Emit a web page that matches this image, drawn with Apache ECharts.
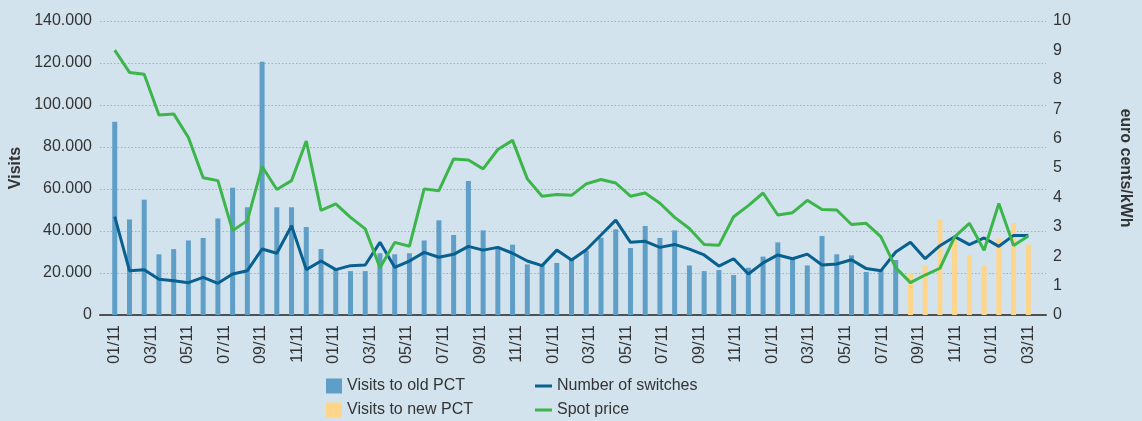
<!DOCTYPE html>
<html>
<head>
<meta charset="utf-8">
<script src="https://cdn.jsdelivr.net/npm/echarts@6/dist/echarts.min.js"></script>
<style>
  html, body { margin: 0; padding: 0; background: #d3e3ee; }
  #chart { width: 1142px; height: 421px; }
</style>
</head>
<body>
<div id="chart"></div>
<script>
// tick labels along the x axis (as printed)
const tickLabels = [
  '01/11', '03/11', '05/11', '07/11', '09/11', '11/11',
  '01/11', '03/11', '05/11', '07/11', '09/11', '11/11',
  '01/11', '03/11', '05/11', '07/11', '09/11', '11/11',
  '01/11', '03/11', '05/11', '07/11', '09/11', '11/11',
  '01/11', '03/11'
]

// visits to old PCT (bars, blue)
const oldPct = [
  92000, 45500, 54900, 28900, 31400, 35500, 36700, 46000, 60600, 51300,
  120600, 51300, 51300, 41900, 31400, 21500, 20900, 20900, 29400, 28900,
  29400, 35500, 45100, 38100, 63800, 40300, 32600, 33500, 24100, 23800,
  24800, 26500, 30500, 36800, 40800, 31900, 42400, 36700, 40300, 23600,
  20900, 21400, 19000, 22500, 27800, 34600, 27000, 23600, 37600, 28900,
  28400, 20500, 21400, 26200,
  null, null, null, null, null, null, null, null, null
]

// visits to new PCT (bars, yellow)
const newPct = [
  null, null, null, null, null, null, null, null, null, null,
  null, null, null, null, null, null, null, null, null, null,
  null, null, null, null, null, null, null, null, null, null,
  null, null, null, null, null, null, null, null, null, null,
  null, null, null, null, null, null, null, null, null, null,
  null, null, null, null,
  20000, 23600, 45500, 36000, 28400, 23600, 36500, 43800, 33500
]

// number of switches (left axis)
const switches = [
  46800, 21100, 21600, 17000, 16300, 15400, 17900, 15100, 19500, 21100,
  31400, 29400, 42500, 21600, 25700, 21600, 23500, 23800, 34600, 22700,
  25700, 29800, 27500, 28900, 32700, 30900, 32200, 29400, 25700, 23500,
  30900, 26200, 31100, 38100, 45200, 34600, 35100, 32200, 33600, 31400,
  28600, 23300, 26800, 19500, 24800, 28600, 26800, 29000, 23800, 24300,
  26300, 22100, 21100, 30000, 34600, 26800, 33000, 37300, 33500, 36700,
  32700, 37900, 37900
]

// spot price, euro cents/kWh (right axis)
const spotPrice = [
  9.01, 8.25, 8.19, 6.80, 6.84, 6.04, 4.67, 4.57, 2.87, 3.21,
  5.05, 4.27, 4.57, 5.92, 3.56, 3.78, 3.32, 2.93, 1.61, 2.47,
  2.34, 4.29, 4.23, 5.31, 5.27, 4.97, 5.63, 5.94, 4.63, 4.04,
  4.10, 4.07, 4.46, 4.61, 4.49, 4.04, 4.15, 3.80, 3.32, 2.94,
  2.40, 2.37, 3.34, 3.72, 4.15, 3.40, 3.48, 3.90, 3.59, 3.57,
  3.08, 3.12, 2.66, 1.61, 1.10, 1.36, 1.59, 2.66, 3.12, 2.20,
  3.79, 2.36, 2.69
]

const font = '"Liberation Sans", Arial, sans-serif'
const textColor = '#333'

// labels spread evenly from the first to the last period
const step = (oldPct.length - 1) / (tickLabels.length - 1)
const tickPos = tickLabels.map((_, i) => i * step)

const pairs = (arr) => arr.map((v, i) => [i, v])

const chart = echarts.init(document.getElementById('chart'))

const legendText = { fontFamily: font, fontSize: 16, color: textColor, lineHeight: 18 }

const option = {
  backgroundColor: '#d3e3ee',
  animation: false,
  grid: {
    left: 100,
    right: 96,
    top: 21,
    bottom: 106,
    outerBoundsMode: 'none'
  },
  legend: [
    {
      orient: 'vertical',
      left: 326,
      top: 377,
      height: 44,
      padding: 0,
      itemWidth: 16,
      itemHeight: 15,
      itemGap: 6,
      icon: 'rect',
      textStyle: legendText,
      data: ['Visits to old PCT', 'Visits to new PCT']
    },
    {
      orient: 'vertical',
      left: 535,
      top: 377,
      height: 44,
      padding: 0,
      itemWidth: 17,
      itemHeight: 3,
      itemGap: 6,
      icon: 'rect',
      textStyle: legendText,
      data: ['Number of switches', 'Spot price']
    }
  ],
  xAxis: {
    type: 'value',
    min: -1,
    max: 63.2,
    splitLine: { show: false },
    axisTick: { show: false },
    axisLine: { show: true, lineStyle: { color: '#505050', width: 2 } },
    axisLabel: {
      customValues: tickPos,
      formatter: (v) => tickLabels[Math.round(v / step)],
      rotate: 90,
      margin: 10,
      fontFamily: font,
      fontSize: 16,
      color: textColor
    }
  },
  yAxis: [
    {
      type: 'value',
      min: 0,
      max: 140000,
      interval: 20000,
      name: 'Visits',
      nameLocation: 'middle',
      nameGap: 70,
      nameTextStyle: { fontFamily: font, fontSize: 16, fontWeight: 'bold', color: textColor },
      axisLine: { show: false },
      axisTick: { show: false },
      axisLabel: {
        margin: 8,
        fontFamily: font,
        fontSize: 16,
        color: textColor,
        formatter: (v) => (v === 0 ? '0' : v / 1000 + '.000')
      },
      splitLine: {
        show: true,
        lineStyle: { color: '#a9afb5', width: 1, type: [1.5, 2] }
      }
    },
    {
      type: 'value',
      min: 0,
      max: 10,
      interval: 1,
      position: 'right',
      name: 'euro cents/kWh',
      nameLocation: 'middle',
      nameRotate: -90,
      nameGap: 71,
      nameTextStyle: { fontFamily: font, fontSize: 16, fontWeight: 'bold', color: textColor },
      axisLine: { show: false },
      axisTick: { show: false },
      axisLabel: { margin: 7, fontFamily: font, fontSize: 16, color: textColor },
      splitLine: { show: false }
    }
  ],
  series: [
    {
      name: 'Visits to old PCT',
      type: 'bar',
      stack: 'visits',
      barWidth: 5,
      itemStyle: { color: '#5f9ec6' },
      data: pairs(oldPct)
    },
    {
      name: 'Visits to new PCT',
      type: 'bar',
      stack: 'visits',
      barWidth: 5,
      itemStyle: { color: '#fdd58b' },
      data: pairs(newPct)
    },
    {
      name: 'Number of switches',
      type: 'line',
      yAxisIndex: 0,
      symbol: 'none',
      lineStyle: { color: '#07608f', width: 3 },
      itemStyle: { color: '#07608f' },
      data: pairs(switches)
    },
    {
      name: 'Spot price',
      type: 'line',
      yAxisIndex: 1,
      symbol: 'none',
      lineStyle: { color: '#3cb54a', width: 3 },
      itemStyle: { color: '#3cb54a' },
      data: pairs(spotPrice)
    }
  ]
}

chart.setOption(option)
</script>
</body>
</html>
